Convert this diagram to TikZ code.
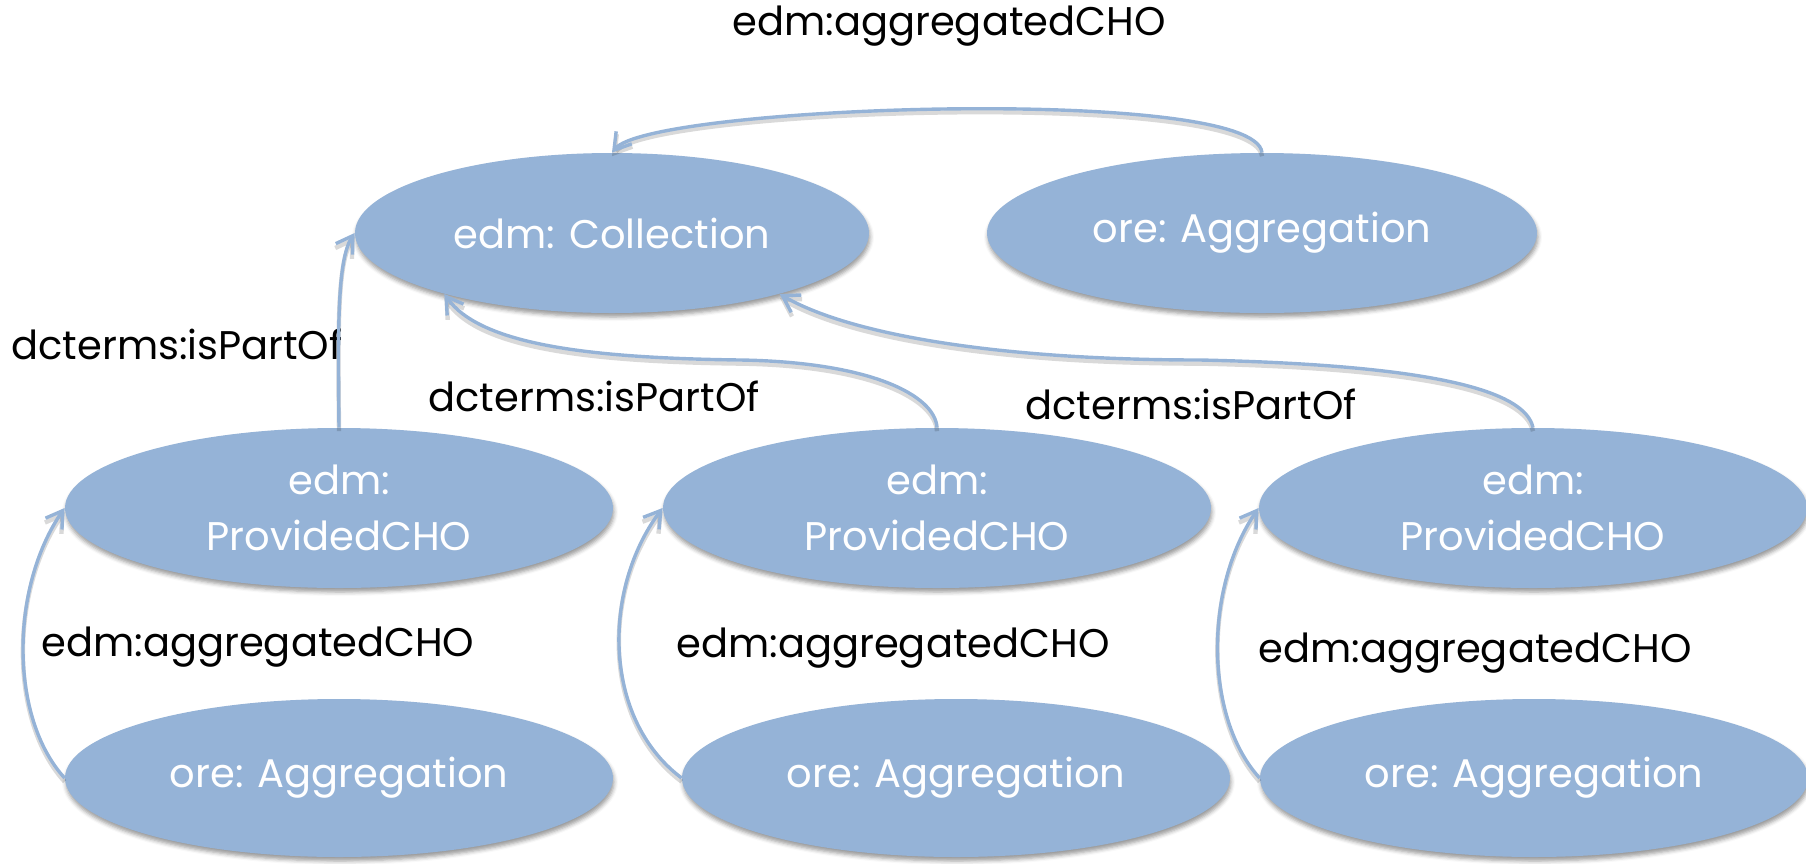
\documentclass[tikz,border=0pt]{standalone}
\usepackage{fontspec}
\setmainfont{Poppins}
\usetikzlibrary{arrows.meta,shapes.geometric,shadows.blur,calc}
\definecolor{nodeblue}{RGB}{149,179,215}
\tikzset{
  entity/.style={ellipse, fill=nodeblue, text=white, inner sep=0pt, align=center,
    minimum width=274pt, minimum height=80pt,
    font=\fontsize{20}{28}\selectfont,
    blur shadow={shadow xshift=0.5pt, shadow yshift=-2pt, shadow blur radius=2pt, shadow opacity=40}},
  rel/.style={draw=nodeblue, line width=1.7pt,
    -{Straight Barb[length=8pt,width=10pt]},
    preaction={draw=black, draw opacity=0.15, line width=2.2pt, transform canvas={yshift=-1.8pt}}},
  lbl/.style={font=\fontsize{20}{24}\selectfont, text=black, inner sep=0pt}
}
\begin{document}
\begin{tikzpicture}[x=0.5pt,y=-0.5pt]
\useasboundingbox (0,0) rectangle (1806,863);

% classes
\node[entity, minimum width=257pt] (coll) at (612,233) {edm: Collection};
\node[entity, minimum width=275pt] (aggT) at (1262,233) {ore: Aggregation};

\node[entity] (cho1) at (339,508) {edm:\\ProvidedCHO};
\node[entity] (cho2) at (937,508) {edm:\\ProvidedCHO};
\node[entity] (cho3) at (1533,508) {edm:\\ProvidedCHO};

\node[entity, minimum height=79pt] (agg1) at (339,778) {ore: Aggregation};
\node[entity, minimum height=79pt] (agg2) at (956,778) {ore: Aggregation};
\node[entity, minimum height=79pt] (agg3) at (1534,778) {ore: Aggregation};

% property labels
\node[lbl] (l0) at (949,26) {edm:aggregatedCHO};
\node[lbl] (l1) at (177,344) {dcterms:isPartOf};
\node[lbl] (l2) at (594,396) {dcterms:isPartOf};
\node[lbl] (l3) at (1191,404) {dcterms:isPartOf};
\node[lbl] (l4) at (258,647) {edm:aggregatedCHO};
\node[lbl] (l5) at (893,648) {edm:aggregatedCHO};
\node[lbl] (l6) at (1475,653) {edm:aggregatedCHO};

% aggregation of the collection
\draw[rel] (aggT.north) .. controls (1255,85) and (650,105) .. (coll.north);

% isPartOf links
\draw[rel] (cho1.north) .. controls (338,330) and (337,260) .. (coll.west);
\draw[rel] (cho2.north) .. controls (935,395) and (870,362) .. (740,360)
                        .. controls (590,358) and (480,345) .. (coll.200);
\draw[rel] (cho3.north) .. controls (1525,390) and (1430,365) .. (1200,360)
                        .. controls (1000,360) and (850,335) .. (coll.340);

% aggregatedCHO loops
\draw[rel] (agg1.west) .. controls ($(agg1.west)+(-55,-60)$) and ($(cho1.west)+(-55,80)$) .. (cho1.west);
\draw[rel] (agg2.west) .. controls ($(agg2.west)+(-80,-60)$) and ($(cho2.west)+(-60,80)$) .. (cho2.west);
\draw[rel] (agg3.west) .. controls ($(agg3.west)+(-55,-60)$) and ($(cho3.west)+(-55,80)$) .. (cho3.west);
\end{tikzpicture}
\end{document}
